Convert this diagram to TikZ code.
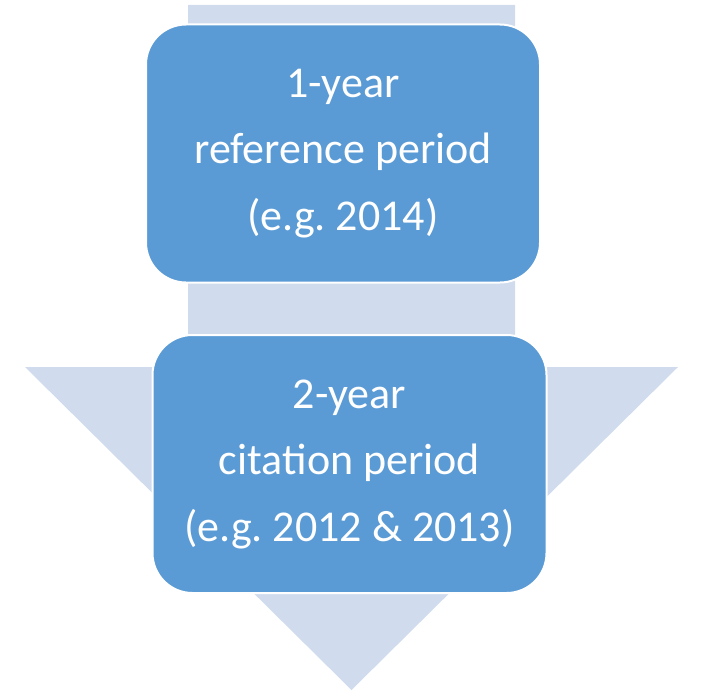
\documentclass[tikz,border=0pt]{standalone}
\usepackage{fontspec}
\setmainfont{Carlito}
\frenchspacing
\usepackage{xcolor}
\definecolor{boxblue}{HTML}{5B9BD5}
\definecolor{arrowpale}{HTML}{D0DCEE}
\usepackage{tikz}
\usetikzlibrary{positioning}
\tikzset{
  pbox/.style={draw=white, fill=boxblue, line width=2pt, rounded corners=40pt,
               align=center, text=white, font=\fontsize{44}{66.5}\selectfont,
               minimum width=394pt, minimum height=258pt, inner sep=0pt},
  bigarrow/.style={fill=arrowpale, draw=none},
}
\begin{document}
\begin{tikzpicture}[x=1pt, y=-1pt]
  \useasboundingbox (0,0) rectangle (711,693);
  % downward arrow behind the boxes
  \fill[bigarrow] (188,5) -- (515,5) -- (515,367) -- (678,367) -- (351.5,690)
    -- (25,367) -- (188,367) -- cycle;
  \node[pbox] (ref) at (343,153.5) {1-year\\reference period\\(e.g. 2014)};
  \node[pbox] (cit) at (349.5,464) {2-year\\citation period\\(e.g. 2012 \& 2013)};
\end{tikzpicture}
\end{document}
